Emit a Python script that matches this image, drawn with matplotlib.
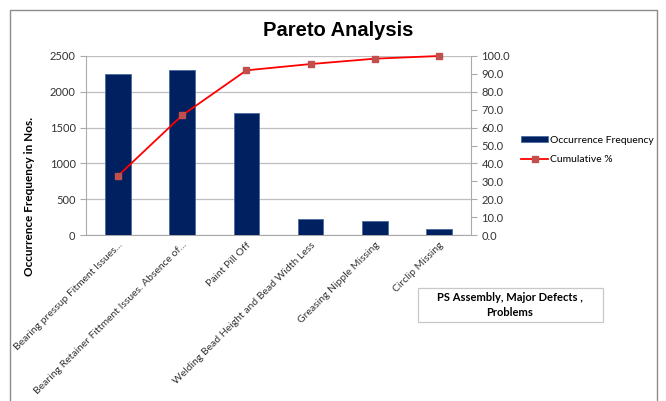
import matplotlib.pyplot as plt
from matplotlib.patches import Rectangle

# Data
categories = ['Bearing pressup Fitment Issues...',
              'Bearing Retainer Fittment Issues. Absence of...',
              'Paint Pill Off',
              'Welding Bead Height and Bead Width Less',
              'Greasing Nipple Missing',
              'Circlip Missing']
frequency = [2250, 2300, 1700, 230, 200, 85]
cumulative = [33.1, 66.9, 92.0, 95.5, 98.5, 100.0]

plt.rcParams['font.family'] = ['Lato', 'DejaVu Sans']

fig = plt.figure(figsize=(6.66, 4.01), dpi=100)
W, H = 666, 401

# outer chart border
fig.patches.append(Rectangle((10 / W, -0.05), 647 / W, 1.05 - 10 / H,
                             transform=fig.transFigure, fill=False,
                             edgecolor='#8c8c8c', linewidth=1.0))

ax = fig.add_axes([86 / W, (H - 235) / H, (471 - 86) / W, (235 - 56) / H])
x = list(range(len(categories)))
bars = ax.bar(x, frequency, width=0.4, color='#002060',
              edgecolor='#4a6aa0', linewidth=0.6, label='Occurrence Frequency',
              zorder=3)
ax.set_xlim(-0.5, len(categories) - 0.5)
ax.set_ylim(0, 2500)
ax.set_yticks(range(0, 2501, 500))
ax.grid(axis='y', color='#bfbfbf', linewidth=0.9, zorder=0)
ax.set_xticks(x)
ax.set_xticklabels(categories, rotation=45, ha='right', rotation_mode='anchor',
                   fontsize=7.5, color='#333333')
ax.tick_params(axis='x', length=0, pad=4)
ax.tick_params(axis='y', labelsize=8, colors='#333333', length=4, width=0.8)
ax.tick_params(axis='y', color='#aaaaaa')
for s in ['top', 'right']:
    ax.spines[s].set_visible(False)
for s in ['left', 'bottom']:
    ax.spines[s].set_color('#aaaaaa')

ax2 = ax.twinx()
line, = ax2.plot(x, cumulative, color='#ff0000', linewidth=1.3, marker='s',
                 markersize=4.5, markerfacecolor='#c0504d',
                 markeredgecolor='#c0504d', label='Cumulative %', zorder=4,
                 clip_on=False)
ax2.set_ylim(0, 100)
ax2.set_yticks(range(0, 101, 10))
ax2.set_yticklabels([f'{v:.1f}' for v in range(0, 101, 10)])
ax2.tick_params(axis='y', labelsize=8, colors='#333333', length=4, width=0.8)
ax2.tick_params(axis='y', color='#aaaaaa')
for s in ['top', 'left', 'bottom']:
    ax2.spines[s].set_visible(False)
ax2.spines['right'].set_color('#aaaaaa')

fig.text(338 / W, 1 - 30 / H, 'Pareto Analysis', ha='center', va='center',
         fontsize=14.5, fontweight='bold', family='Liberation Sans')
fig.text(30 / W, 1 - 197 / H, 'Occurrence Frequency in Nos.', rotation=90,
         ha='center', va='center', fontsize=8.5, fontweight='bold')

fig.legend([bars, line], ['Occurrence Frequency', 'Cumulative %'],
           loc='center left', bbox_to_anchor=(517 / W, 1 - 150 / H),
           frameon=False, fontsize=7.5, handlelength=2.6, handleheight=0.5,
           labelspacing=1.0, handletextpad=0.2, borderaxespad=0)

fig.patches.append(Rectangle((418 / W, 1 - 322 / H), 185 / W, 34 / H,
                             transform=fig.transFigure, facecolor='white',
                             edgecolor='#c8c8c8', linewidth=0.9))
fig.text(510 / W, 1 - 305 / H, 'PS Assembly, Major Defects ,\nProblems',
         ha='center', va='center', fontsize=8, fontweight='bold',
         linespacing=1.4)

fig.savefig('out.png', dpi=100)
